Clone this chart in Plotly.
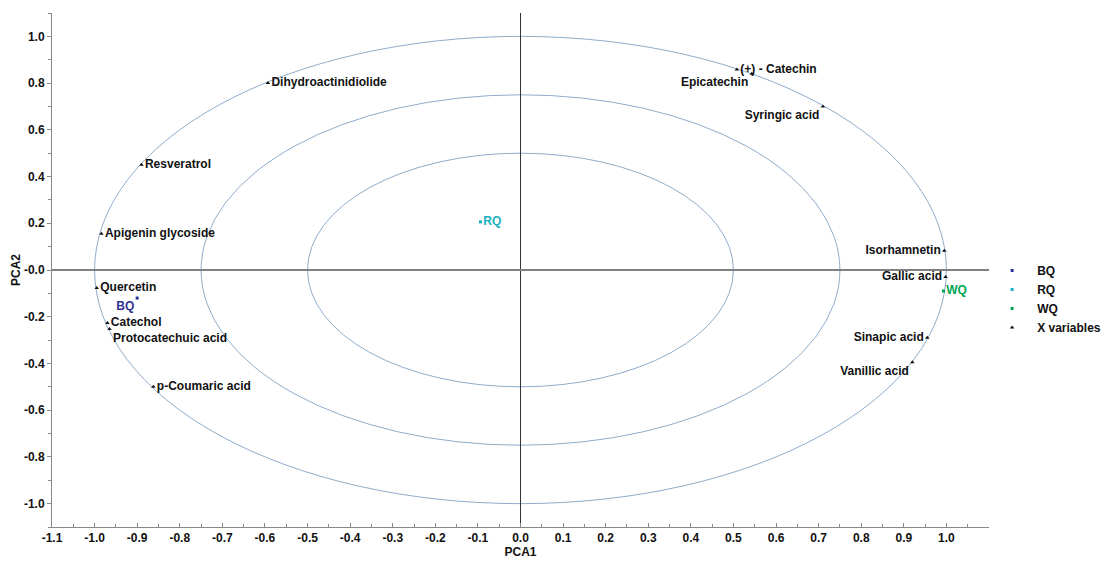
import plotly.graph_objects as go

# ---- data ----
var_names = ["Dihydroactinidiolide", "Resveratrol", "Apigenin glycoside", "Quercetin",
             "Catechol", "Protocatechuic acid", "p-Coumaric acid", "(+) - Catechin",
             "Epicatechin", "Syringic acid", "Isorhamnetin", "Gallic acid",
             "Sinapic acid", "Vanillic acid"]
var_pc1 = [-0.593, -0.89, -0.984, -0.995, -0.97, -0.965, -0.862, 0.508,
           0.543, 0.71, 0.995, 0.998, 0.955, 0.92]
var_pc2 = [0.80, 0.45, 0.155, -0.077, -0.227, -0.253, -0.50, 0.858,
           0.84, 0.70, 0.082, -0.03, -0.29, -0.395]

sample_names = ["BQ", "RQ", "WQ"]
sample_pc1 = [-0.90, -0.094, 0.993]
sample_pc2 = [-0.12, 0.206, -0.09]

circle_radii = [1.0, 0.75, 0.5]

x_tickvals = [-1.1, -1.0, -0.9, -0.8, -0.7, -0.6, -0.5, -0.4, -0.3, -0.2, -0.1,
              0.0, 0.1, 0.2, 0.3, 0.4, 0.5, 0.6, 0.7, 0.8, 0.9, 1.0]
x_ticktext = ["-1.1", "-1.0", "-0.9", "-0.8", "-0.7", "-0.6", "-0.5", "-0.4", "-0.3", "-0.2", "-0.1",
              "0.0", "0.1", "0.2", "0.3", "0.4", "0.5", "0.6", "0.7", "0.8", "0.9", "1.0"]
y_tickvals = [1.0, 0.8, 0.6, 0.4, 0.2, 0.0, -0.2, -0.4, -0.6, -0.8, -1.0]
y_ticktext = ["1.0", "0.8", "0.6", "0.4", "0.2", "-0.0", "-0.2", "-0.4", "-0.6", "-0.8", "-1.0"]

# ---- styles ----
label_pos = {
    "Epicatechin": "bottom left", "Syringic acid": "bottom left",
    "Isorhamnetin": "middle left", "Gallic acid": "middle left",
    "Sinapic acid": "middle left", "Vanillic acid": "bottom left",
    "Protocatechuic acid": "bottom right",
}
sample_pos = {"BQ": "bottom left", "RQ": "middle right", "WQ": "middle right"}
sample_colors = {"BQ": "#2e3192", "RQ": "#1ab0c0", "WQ": "#00a651"}

FONT = "Liberation Sans, Arial, sans-serif"

fig = go.Figure()

for nm, x, y in zip(sample_names, sample_pc1, sample_pc2):
    fig.add_trace(go.Scatter(
        x=[x], y=[y], mode="markers+text", name=nm, text=[nm],
        textposition=sample_pos[nm],
        textfont=dict(family=FONT, size=12, color=sample_colors[nm], weight="bold"),
        marker=dict(symbol="square", size=3, color=sample_colors[nm]),
    ))

fig.add_trace(go.Scatter(
    x=var_pc1, y=var_pc2, mode="markers+text", name="X variables", text=var_names,
    textposition=[label_pos.get(n, "middle right") for n in var_names],
    textfont=dict(family=FONT, size=12, color="#111111", weight="bold"),
    marker=dict(symbol="triangle-up", size=4, color="#111111"),
))

for r in circle_radii:
    fig.add_shape(type="circle", xref="x", yref="y", x0=-r, y0=-r, x1=r, y1=r,
                  line=dict(color="#8fadca", width=1), layer="below")

fig.update_layout(
    width=1106, height=566,
    margin=dict(l=52, r=117, t=13, b=39, autoexpand=False),
    paper_bgcolor="white", plot_bgcolor="white",
    font=dict(family=FONT, size=12, color="#111111"),
    legend=dict(x=0.998, y=0.527, xanchor="left", yanchor="top",
                font=dict(family=FONT, size=12, weight="bold"),
                tracegroupgap=0, itemwidth=40, bgcolor="rgba(0,0,0,0)"),
    showlegend=True,
)
fig.update_xaxes(
    range=[-1.1, 1.1], tickvals=x_tickvals, ticktext=x_ticktext,
    showgrid=False, zeroline=True, zerolinecolor="#333333", zerolinewidth=1,
    showline=True, linecolor="#888888", linewidth=1,
    ticks="inside", ticklen=4, tickcolor="#888888",
    minor=dict(dtick=0.05, ticks="inside", ticklen=3, tickcolor="#888888"),
    tickfont=dict(family=FONT, size=12, weight="bold"),
    title=dict(text="PCA1", font=dict(family=FONT, size=12, weight="bold"), standoff=1),
)
fig.update_yaxes(
    range=[-1.1, 1.1], tickvals=y_tickvals, ticktext=y_ticktext,
    showgrid=False, zeroline=True, zerolinecolor="#808080", zerolinewidth=2,
    showline=True, linecolor="#888888", linewidth=1,
    ticks="outside", ticklen=4, tickcolor="#888888",
    minor=dict(dtick=0.1, ticks="outside", ticklen=3, tickcolor="#888888"),
    tickfont=dict(family=FONT, size=12, weight="bold"),
    title=dict(text="PCA2", font=dict(family=FONT, size=12, weight="bold"), standoff=0),
)

fig.write_html("out.html")
